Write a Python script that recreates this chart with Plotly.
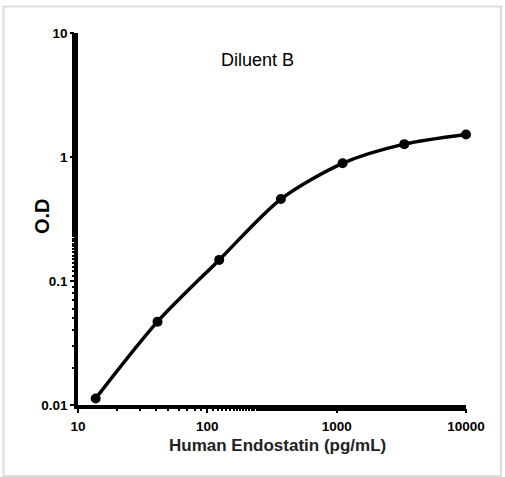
import plotly.graph_objects as go

concentration = [13.7, 41.2, 123.5, 370.4, 1111, 3333, 10000]
od = [0.0113, 0.047, 0.148, 0.458, 0.89, 1.27, 1.52]
x_ticks = [10, 100, 1000, 10000]
x_tick_labels = ["10", "100", "1000", "10000"]
y_ticks = [0.01, 0.1, 1, 10]
y_tick_labels = ["0.01", "0.1", "1", "10"]

W, H = 505, 477
L, R, T, B = 78, 39, 33, 72
pw, ph = W - L - R, H - T - B

def px(x):
    return (x - L) / pw

def py(y):
    return (H - B - y) / ph

fig = go.Figure()
fig.add_trace(go.Scatter(
    x=concentration, y=od, mode="lines+markers",
    line=dict(color="black", width=3.5, shape="spline", smoothing=0.8),
    marker=dict(color="black", size=10),
    showlegend=False, cliponaxis=False, hoverinfo="skip",
))

tickfont = dict(family="Liberation Sans, Arial", size=13.5, color="black")
fig.update_xaxes(
    type="log", range=[1, 4], tickvals=x_ticks, ticktext=["<b>%s</b>" % t for t in x_tick_labels],
    showline=True, linecolor="black", linewidth=3.5, showgrid=False, zeroline=False,
    ticks="outside", ticklen=4, tickwidth=2, tickcolor="black", tickfont=tickfont,
    ticklabelstandoff=2,
    minor=dict(ticks="outside", ticklen=2, tickwidth=2, tickcolor="black", showgrid=False),
)
fig.update_yaxes(
    type="log", range=[-2, 1], tickvals=y_ticks, ticktext=["<b>%s</b>" % t for t in y_tick_labels],
    showline=True, linecolor="black", linewidth=3.5, showgrid=False, zeroline=False,
    ticks="outside", ticklen=4, tickwidth=2, tickcolor="black", tickfont=tickfont,
    minor=dict(ticks="outside", ticklen=2, tickwidth=2, tickcolor="black", showgrid=False),
)

fig.add_annotation(text="Diluent B", x=px(257), y=py(48), xref="paper", yref="paper",
                   showarrow=False, font=dict(family="Liberation Sans, Arial", size=18, color="black"))
fig.add_annotation(text="<b>Human Endostatin (pg/mL)</b>", x=px(277), y=py(457), xref="paper", yref="paper",
                   showarrow=False, font=dict(family="Liberation Sans, Arial", size=17, color="#222"))
fig.add_annotation(text="<b>O.D</b>", x=px(29), y=py(216), xref="paper", yref="paper", textangle=-90,
                   showarrow=False, font=dict(family="Liberation Sans, Arial", size=20, color="black"))

fig.add_shape(type="rect", xref="paper", yref="paper",
              x0=px(3.5), x1=px(501), y0=py(476), y1=py(6.5),
              line=dict(color="#dddddd", width=2), fillcolor="rgba(0,0,0,0)", layer="below")

fig.update_layout(
    width=W, height=H, autosize=False,
    margin=dict(l=L, r=R, t=T, b=B),
    plot_bgcolor="white", paper_bgcolor="white",
    hovermode=False,
)

fig.write_html("out.html", config={"displayModeBar": False},
               post_script="document.body.style.margin='0';document.body.style.padding='0';")
